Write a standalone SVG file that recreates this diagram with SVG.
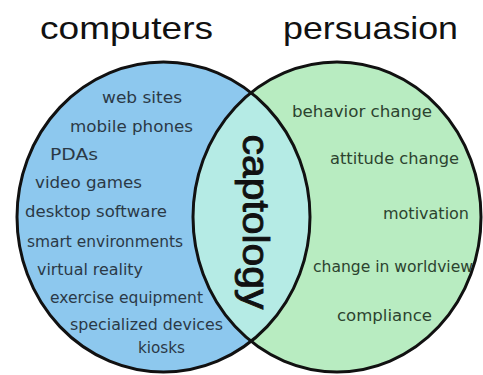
<svg xmlns="http://www.w3.org/2000/svg" width="483" height="375" viewBox="0 0 483 375">
  <defs>
    <style>
      .title { font-family: "Liberation Sans", Arial, sans-serif; font-size: 32px; fill: #111; }
      .item { font-family: "DejaVu Sans", Verdana, sans-serif; font-size: 16px; }
      .left .item { fill: #2b3946; }
      .right .item { fill: #2c432f; }
      .core { font-family: "Liberation Sans", Arial, sans-serif; font-size: 36px; fill: #111; stroke: #111; stroke-width: 0.9; }
      .ring { fill: none; stroke: #111; stroke-width: 3; }
    </style>
    <clipPath id="rightShape">
      <ellipse cx="337" cy="217" rx="144" ry="155"/>
    </clipPath>
  </defs>

  <rect width="483" height="375" fill="#fff"/>

  <!-- set fills -->
  <ellipse cx="163.5" cy="217" rx="146.5" ry="155" fill="#8dc8ee"/>
  <ellipse cx="337" cy="217" rx="144" ry="155" fill="#b8ecc1"/>
  <ellipse cx="163.5" cy="217" rx="146.5" ry="155" fill="#b5ebe5" clip-path="url(#rightShape)"/>

  <!-- outlines -->
  <ellipse class="ring" cx="163.5" cy="217" rx="146.5" ry="155"/>
  <ellipse class="ring" cx="337" cy="217" rx="144" ry="155"/>

  <g id="computers" class="left">
    <text class="title" x="40" y="39" textLength="173" lengthAdjust="spacingAndGlyphs">computers</text>
    <text class="item" x="102" y="103" textLength="80" lengthAdjust="spacingAndGlyphs">web sites</text>
    <text class="item" x="70" y="132" textLength="123" lengthAdjust="spacingAndGlyphs">mobile phones</text>
    <text class="item" x="50" y="160" textLength="48" lengthAdjust="spacingAndGlyphs">PDAs</text>
    <text class="item" x="35" y="188" textLength="107" lengthAdjust="spacingAndGlyphs">video games</text>
    <text class="item" x="25" y="217" textLength="142" lengthAdjust="spacingAndGlyphs">desktop software</text>
    <text class="item" x="27" y="247" textLength="156" lengthAdjust="spacingAndGlyphs">smart environments</text>
    <text class="item" x="37" y="275" textLength="106" lengthAdjust="spacingAndGlyphs">virtual reality</text>
    <text class="item" x="50" y="303" textLength="153" lengthAdjust="spacingAndGlyphs">exercise equipment</text>
    <text class="item" x="70" y="330" textLength="153" lengthAdjust="spacingAndGlyphs">specialized devices</text>
    <text class="item" x="138" y="353" textLength="47" lengthAdjust="spacingAndGlyphs">kiosks</text>
  </g>

  <g id="persuasion" class="right">
    <text class="title" x="283" y="39" textLength="175" lengthAdjust="spacingAndGlyphs">persuasion</text>
    <text class="item" x="292" y="117" textLength="140" lengthAdjust="spacingAndGlyphs">behavior change</text>
    <text class="item" x="330" y="164" textLength="129" lengthAdjust="spacingAndGlyphs">attitude change</text>
    <text class="item" x="383" y="219" textLength="86" lengthAdjust="spacingAndGlyphs">motivation</text>
    <text class="item" x="313" y="272" textLength="160" lengthAdjust="spacingAndGlyphs">change in worldview</text>
    <text class="item" x="337" y="321" textLength="95" lengthAdjust="spacingAndGlyphs">compliance</text>
  </g>

  <g id="captology">
    <text class="core" transform="translate(243 222) rotate(90)" x="0" y="0" text-anchor="middle" textLength="175" lengthAdjust="spacingAndGlyphs">captology</text>
  </g>
</svg>
